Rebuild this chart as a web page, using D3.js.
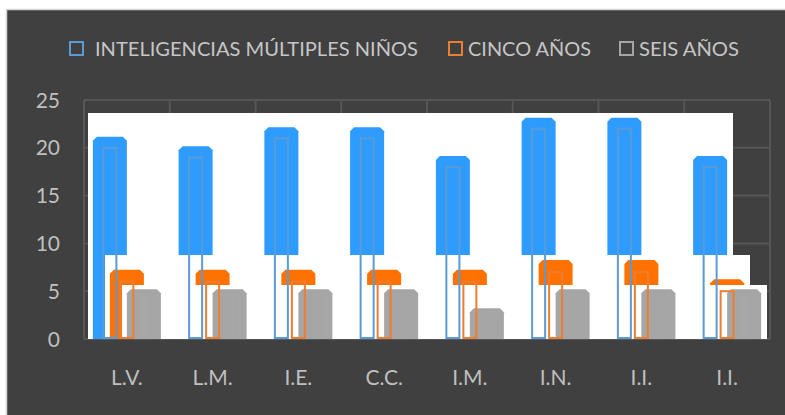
<!DOCTYPE html>
<html>
<head>
<meta charset="utf-8">
<script src="https://cdn.jsdelivr.net/npm/d3@7"></script>
<style>
  html, body { margin: 0; padding: 0; background: #ffffff; }
  svg { display: block; }
  text { font-family: Lato, "Open Sans", sans-serif; }
</style>
</head>
<body>
<svg id="chart" width="785" height="415"></svg>
<script>
// chart data
var categories = ["L.V.", "L.M.", "I.E.", "C.C.", "I.M.", "I.N.", "I.I.", "I.I."];
var series = ["INTELIGENCIAS MÚLTIPLES NIÑOS", "CINCO AÑOS", "SEIS AÑOS"];
var inteligencias = [20, 19, 21, 21, 18, 22, 22, 18];
var cincoAnos = [6, 6, 6, 6, 6, 7, 7, 5];
var seisAnos = [5, 5, 5, 5, 3, 5, 5, 5];
var yTicks = [0, 5, 10, 15, 20, 25];

var values = [inteligencias, cincoAnos, seisAnos];
// look of each series: outline colour, solid (shadow) colour, how far the solid copy sits above
var looks = [
  { line: "#5b9bd5", fill: "#2e9bff", lift: 11, stripTop: 113, legendX: 70, textX: 95, textW: 323 },
  { line: "#ed7d31", fill: "#ff7100", lift: 12, stripTop: 255, legendX: 449, textX: 468, textW: 123 },
  { line: "#a5a5a5", fill: "#a6a6a6", lift: 2, stripTop: 285, legendX: 620, textX: 639, textW: 100 }
];

var svg = d3.select("#chart");

// dark chart area with thin light border
svg.append("rect")
  .attr("x", 6.5).attr("y", 9.5)
  .attr("width", 790).attr("height", 420)
  .attr("fill", "#404040")
  .attr("stroke", "#d4d4d4").attr("stroke-width", 1.5);

var x = d3.scaleBand().domain(d3.range(categories.length)).range([84, 770]).paddingInner(0);
var sub = d3.scalePoint().domain(d3.range(series.length)).range([-17, 17]);
var y = d3.scaleLinear().domain([0, 25]).range([339, 100]);

// gridlines
var grid = svg.append("g").attr("stroke", "#565656").attr("stroke-width", 2);
grid.selectAll(".h").data(yTicks).enter().append("line")
  .attr("x1", 84).attr("x2", 770)
  .attr("y1", function (d) { return y(d); })
  .attr("y2", function (d) { return y(d); });
grid.selectAll(".v").data(d3.range(categories.length + 1)).enter().append("line")
  .attr("x1", function (i) { return 84 + i * x.bandwidth(); })
  .attr("x2", function (i) { return 84 + i * x.bandwidth(); })
  .attr("y1", y(25)).attr("y2", y(0));

// y axis labels
svg.selectAll(".ytick").data(yTicks).enter().append("text")
  .attr("x", 60)
  .attr("y", function (d) { return y(d) + 7.5; })
  .attr("text-anchor", "end")
  .attr("font-size", 21)
  .attr("fill", "#bfbfbf")
  .text(function (d) { return d; });

// category labels
svg.selectAll(".xtick").data(categories).enter().append("text")
  .attr("x", function (d, i) { return x(i) + x.bandwidth() / 2; })
  .attr("y", 385)
  .attr("text-anchor", "middle")
  .attr("font-size", 21)
  .attr("fill", "#bfbfbf")
  .text(function (d) { return d; });

// bar with cut top corners
function chamfer(x0, x1, yt, yb, c) {
  return "M" + x0 + "," + yb + "L" + x0 + "," + (yt + c) + "L" + (x0 + c) + "," + yt +
    "L" + (x1 - c) + "," + yt + "L" + x1 + "," + (yt + c) + "L" + x1 + "," + yb + "Z";
}

var solidW = 34, lineW = 13;

// white strips, each holding the solid copy of one series
series.forEach(function (s, k) {
  var look = looks[k];
  var g = svg.append("g");
  var shift = sub(k) - sub(0);
  g.append("rect")
    .attr("x", 88 + shift).attr("y", look.stripTop)
    .attr("width", 645).attr("height", y(0) - look.stripTop)
    .attr("fill", "#ffffff");
  g.selectAll("path").data(values[k]).enter().append("path")
    .attr("fill", look.fill)
    .attr("d", function (v, i) {
      var cx = x(i) + x.bandwidth() / 2 + sub(k);
      return chamfer(cx - solidW / 2, cx + solidW / 2, y(v) - look.lift, y(0), 4);
    });
});

// outlined bars on top
series.forEach(function (s, k) {
  var look = looks[k];
  svg.append("g").selectAll("rect").data(values[k]).enter().append("rect")
    .attr("x", function (v, i) { return x(i) + x.bandwidth() / 2 + sub(k) - lineW / 2; })
    .attr("y", function (v) { return y(v); })
    .attr("width", lineW)
    .attr("height", function (v) { return y(0) - y(v) - 1; })
    .attr("fill", "none")
    .attr("stroke", look.line)
    .attr("stroke-width", 2);
});

// legend
series.forEach(function (s, k) {
  var look = looks[k];
  svg.append("rect")
    .attr("x", look.legendX).attr("y", 42)
    .attr("width", 13).attr("height", 13)
    .attr("fill", "none")
    .attr("stroke", look.line)
    .attr("stroke-width", 2);
  svg.append("text")
    .attr("x", look.textX).attr("y", 56)
    .attr("font-size", 20)
    .attr("fill", "#c6c6c6")
    .attr("textLength", look.textW)
    .attr("lengthAdjust", "spacingAndGlyphs")
    .text(s);
});
</script>
</body>
</html>
